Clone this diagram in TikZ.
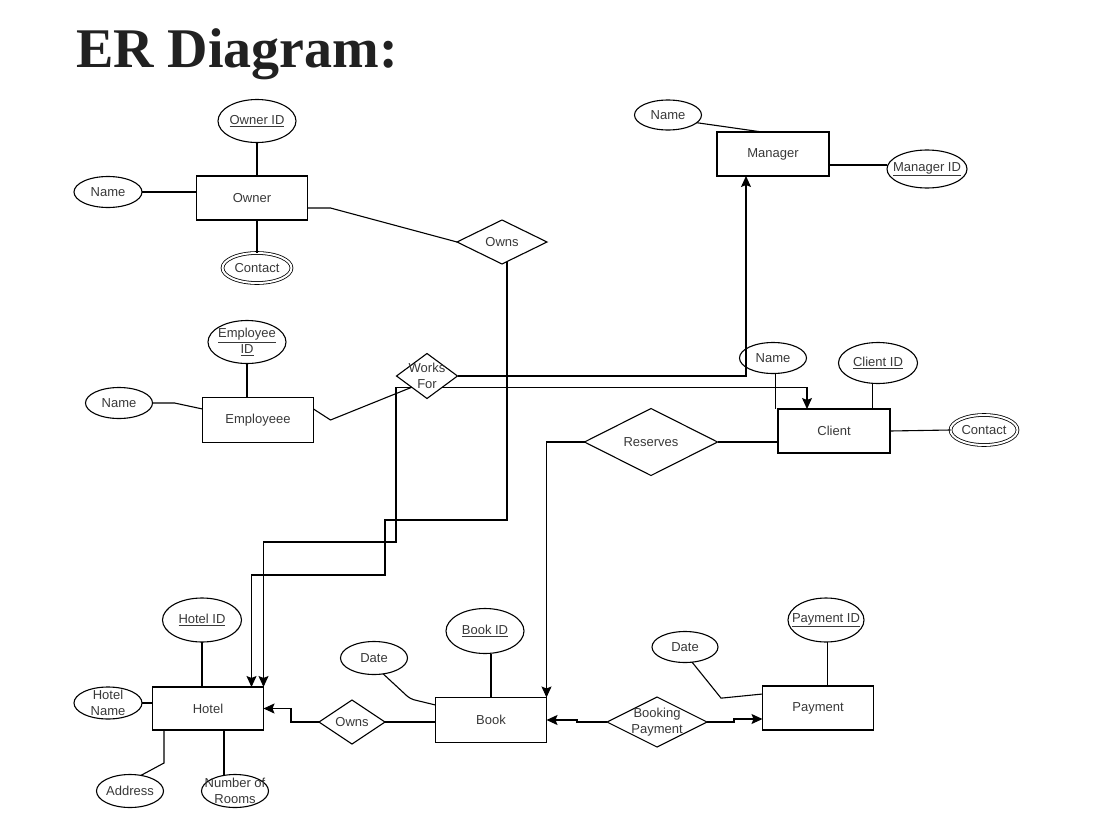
\documentclass[tikz,border=0pt]{standalone}
\usepackage{fontspec}
\setmainfont{Liberation Sans}
\newfontfamily\titlefont{Liberation Serif}
\usetikzlibrary{shapes.geometric,arrows.meta}
\begin{document}
\begin{tikzpicture}[x=1pt,y=-1pt,
  every node/.style={inner sep=0pt, outer sep=0pt},
  ln/.style={line width=1.1pt, black},
  arr/.style={ln, -{Stealth[length=11pt,width=10pt,inset=2pt]}},
  txt/.style={font=\fontsize{13}{15.5}\selectfont, text=black!78, align=center, inner sep=0pt},
  lab/.style={label={[txt]center:#1}},
  ent/.style={draw, line width=1.1pt, rectangle, minimum width=111pt, minimum height=44pt},
  attr/.style={draw, line width=1.1pt, ellipse},
  mattr/.style={draw, ellipse, double, double distance=2pt, line width=0.8pt},
  rel/.style={draw, line width=1.1pt, diamond},
]
\useasboundingbox (0,0) rectangle (1103,827);

% title
\node[anchor=base west, font=\titlefont\bfseries\fontsize{56}{62}\selectfont, text=black!87] (title) at (76,67) {ER Diagram:};

% entities
\node[ent, lab=Owner] (owner) at (252,198) {};
\node[ent, minimum width=112pt, lab=Manager] (manager) at (773,154) {};
\node[ent, minimum height=45pt, lab=Employeee] (employee) at (258,420) {};
\node[ent, minimum width=112pt, lab=Client] (client) at (834,431) {};
\node[ent, minimum height=43pt, lab=Hotel] (hotel) at (208,708.5) {};
\node[ent, minimum height=45pt, lab=Book] (book) at (491,720) {};
\node[ent, lab=Payment] (payment) at (818,708) {};

% attributes
\node[attr, minimum width=78pt, minimum height=43pt, lab=\underline{Owner ID}] (oid) at (257,121) {};
\node[attr, minimum width=68pt, minimum height=31pt, lab=Name] (oname) at (108,192) {};
\node[mattr, minimum width=69pt, minimum height=30pt, lab=Contact] (ocontact) at (257,268) {};
\node[attr, minimum width=67pt, minimum height=30pt, lab=Name] (mname) at (668,115) {};
\node[attr, minimum width=80pt, minimum height=38pt, lab=\underline{Manager ID}] (mid) at (927,169) {};
\node[attr, minimum width=78pt, minimum height=43pt, lab={\underline{Employee}\\\underline{ID}}] (eid) at (247,342) {};
\node[attr, minimum width=67pt, minimum height=31pt, lab=Name] (ename) at (119,403) {};
\node[attr, minimum width=67pt, minimum height=31pt, lab=Name] (cname) at (773,358) {};
\node[attr, minimum width=79pt, minimum height=41pt, lab=\underline{Client ID}] (cid) at (878,363) {};
\node[mattr, minimum width=67pt, minimum height=30pt, lab=Contact] (ccontact) at (984,430) {};
\node[attr, minimum width=79pt, minimum height=44pt, lab=\underline{Hotel ID}] (hid) at (202,620) {};
\node[attr, minimum width=68pt, minimum height=32pt, lab={Hotel\\Name}] (hname) at (108,703) {};
\node[attr, minimum width=67pt, minimum height=33pt, lab=Address] (haddr) at (130,791) {};
\node[attr, minimum width=67pt, minimum height=33pt, lab={Number of\\Rooms}] (hrooms) at (235,791) {};
\node[attr, minimum width=78pt, minimum height=45pt, lab=\underline{Book ID}] (bid) at (485,631) {};
\node[attr, minimum width=67pt, minimum height=33pt, lab=Date] (bdate) at (374,658) {};
\node[attr, minimum width=76pt, minimum height=44pt, lab=\underline{Payment ID}] (pid) at (826,620) {};
\node[attr, minimum width=66pt, minimum height=31pt, lab=Date] (pdate) at (685,647) {};

% relationships
\node[rel, minimum width=90pt, minimum height=44pt, lab=Owns] (owns1) at (502,242) {};
\node[rel, minimum width=61pt, minimum height=45pt, lab={Works\\For}] (works) at (427,376) {};
\node[rel, minimum width=133pt, minimum height=67pt, lab=Reserves] (reserves) at (651,442) {};
\node[rel, minimum width=66pt, minimum height=44pt, lab=Owns] (owns2) at (352,722) {};
\node[rel, minimum width=100pt, minimum height=50pt, lab={Booking\\Payment}] (bpay) at (657,722) {};

% owner connectors
\draw[ln] (oid.south) -- (oid.south |- owner.north);
\draw[ln] (oname.east) -- (oname.east -| owner.west);
\draw[ln] (ocontact.north |- owner.south) -- (ocontact.north);
\draw[ln] ([yshift=-10pt]owner.east) -- ++(23,0) -- (owns1.west);
\draw[arr] ([xshift=5pt,yshift=2.5pt]owns1.south) |- (385,520) |- (251.5,575) -- ([xshift=-12pt]hotel.north east);

% manager connectors
\draw[ln] (mname.-15) -- ([xshift=-11pt]manager.north);
\draw[ln] ([yshift=-11pt]manager.east) -- ([yshift=4pt]mid.west);

% employee connectors
\draw[ln] (eid.south) -- (eid.south |- employee.north);
\draw[ln] (ename.east) -- ++(22,0) -- ([yshift=11pt]employee.west);
\draw[ln] ([yshift=11pt]employee.east) -- ++(17,11) -- (works.south west);
\draw[arr] (works.south west) -| (396,542) -| (hotel.north east);
\draw[arr] (works.east) -| ([xshift=-27pt]manager.south);
\draw[arr] (works.south east) -| ([xshift=-27pt]client.north);

% client connectors
\draw[ln] (cname.-80) -- (cname.-80 |- client.north);
\draw[ln] (cid.-105) -- (cid.-105 |- client.north);
\draw[ln] (client.east) -- (ccontact.west);
\draw[ln] (reserves.east) -- (reserves.east -| client.west);
\draw[arr] (reserves.west) -| (book.north east);

% hotel connectors
\draw[ln] (hid.south) -- (hid.south |- hotel.north);
\draw[ln] (hname.east) -- (hname.east -| hotel.west);
\draw[ln] ([xshift=-44pt]hotel.south) -- ++(0,33) -- (haddr.55);
\draw[ln] ([xshift=16pt]hotel.south) -- ([xshift=16pt]hotel.south |- hrooms.north);
\draw[arr] (owns2.west) -- ++(-28,0) |- (hotel.east);
\draw[ln] (owns2.east) -- (owns2.east -| book.west);

% book connectors
\draw[ln, rounded corners=4pt] (bdate.-60) -- ++(27,25) -- ([yshift=15pt]book.west);
\draw[ln] (book.north) -- (book.north |- bid.south);
\draw[arr] (bpay.west) -- ++(-30,0) |- (book.east);
\draw[arr] (bpay.east) -- ++(27,0) |- ([yshift=-11pt]payment.west);

% payment connectors
\draw[ln] (pdate.-65) -- ++(29,36) -- ([yshift=14pt]payment.west);
\draw[ln] (pid.-85) -- (pid.-85 |- payment.north);
\end{tikzpicture}
\end{document}
